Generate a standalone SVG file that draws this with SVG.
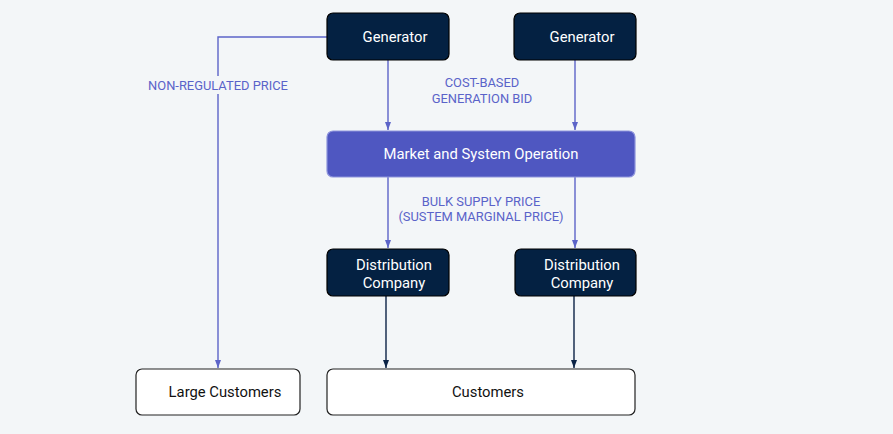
<svg xmlns="http://www.w3.org/2000/svg" width="893" height="434" viewBox="0 0 893 434">
<defs>
<marker id="ab" viewBox="0 0 8 6" refX="8" refY="3" markerWidth="8" markerHeight="6" orient="auto" markerUnits="userSpaceOnUse"><path d="M0,0 L8,3 L0,6 Z" fill="#5c64c8"/></marker>
<marker id="ad" viewBox="0 0 8 6" refX="8" refY="3" markerWidth="8" markerHeight="6" orient="auto" markerUnits="userSpaceOnUse"><path d="M0,0 L8,3 L0,6 Z" fill="#0b2346"/></marker>
</defs>
<style>
.dark{fill:#042142;stroke:#000;stroke-width:1.2}
.white{fill:#fff;stroke:#222;stroke-width:1.2}
.mkt{fill:#4f57c1;stroke:#8d93dc;stroke-width:1.2}
.t{font-family:Roboto,"Liberation Sans",sans-serif;font-size:14.8px;text-anchor:middle}
.tw{fill:#fff}
.tk{fill:#111}
.lbl{font-family:Roboto,"Liberation Sans",sans-serif;font-size:12.9px;fill:#5a63c9;text-anchor:middle}
.cb{fill:none;stroke:#5c64c8;stroke-width:1.4}
.cd{fill:none;stroke:#0b2346;stroke-width:1.4}
</style>
<rect width="893" height="434" fill="#f3f6f8"/>
<g id="connectors">
<path class="cb" d="M327,37 H218 V368" marker-end="url(#ab)"/>
<path class="cb" d="M388,60 V130" marker-end="url(#ab)"/>
<path class="cb" d="M575,60 V130" marker-end="url(#ab)"/>
<path class="cb" d="M388,177 V248" marker-end="url(#ab)"/>
<path class="cb" d="M575,177 V248" marker-end="url(#ab)"/>
<path class="cd" d="M386,296 V368" marker-end="url(#ad)"/>
<path class="cd" d="M574,296 V368" marker-end="url(#ad)"/>
<rect x="146" y="76" width="144" height="18" fill="#f3f6f8"/>
<text class="lbl" x="218" y="90">NON-REGULATED PRICE</text>
<text class="lbl" x="482" y="87">COST-BASED</text>
<text class="lbl" x="482" y="103">GENERATION BID</text>
<text class="lbl" x="481" y="206">BULK SUPPLY PRICE</text>
<text class="lbl" x="481" y="221">(SUSTEM MARGINAL PRICE)</text>
</g>
<g id="gen1"><rect class="dark" x="327" y="13" width="122" height="47" rx="6"/><text class="t tw" x="395" y="42">Generator</text></g>
<g id="gen2"><rect class="dark" x="514" y="13" width="122" height="47" rx="6"/><text class="t tw" x="582" y="42">Generator</text></g>
<g id="market"><rect class="mkt" x="327" y="131" width="308" height="46" rx="6"/><text class="t tw" x="481" y="159">Market and System Operation</text></g>
<g id="dist1"><rect class="dark" x="327" y="249" width="122" height="47" rx="6"/><text class="t tw" x="394" y="270">Distribution</text><text class="t tw" x="394" y="288">Company</text></g>
<g id="dist2"><rect class="dark" x="515" y="249" width="121" height="47" rx="6"/><text class="t tw" x="582" y="270">Distribution</text><text class="t tw" x="582" y="288">Company</text></g>
<g id="large"><rect class="white" x="136" y="369" width="164" height="46" rx="6"/><text class="t tk" x="225" y="397">Large Customers</text></g>
<g id="customers"><rect class="white" x="327" y="369" width="308" height="46" rx="6"/><text class="t tk" x="488" y="397">Customers</text></g>
</svg>
